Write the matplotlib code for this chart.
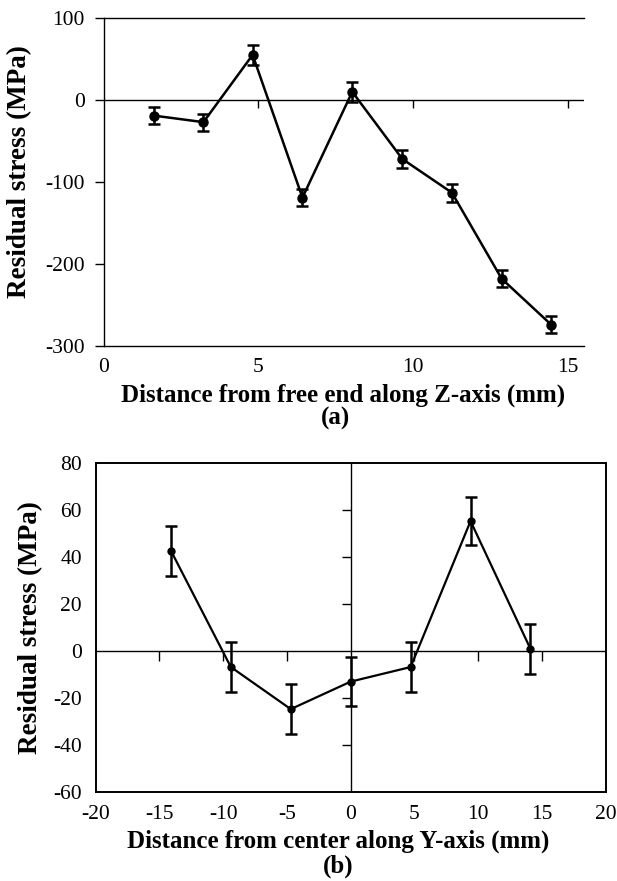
import numpy as np
import matplotlib
matplotlib.use("Agg")
import matplotlib.pyplot as plt

plt.rcParams["font.family"] = ["Liberation Serif", "DejaVu Serif"]
plt.rcParams["axes.unicode_minus"] = False

# (a) вдоль оси Z
z_pos = [1.62, 3.23, 4.82, 6.43, 8.04, 9.66, 11.26, 12.87, 14.47]
z_stress = [-19, -27, 55, -119, 10, -72, -113, -218, -274]
z_err = [10.5, 10.5, 12, 10, 12, 11, 11, 10.5, 10.5]
z_xticks = [0, 5, 10, 15]
z_yticks = [-300, -200, -100, 0, 100]

# (b) вдоль оси Y
y_pos = [-14.1, -9.4, -4.7, 0.0, 4.7, 9.4, 14.1]
y_stress = [42.8, -6.7, -24.6, -12.9, -6.7, 55.4, 1.0]
y_err = [10.7, 10.7, 10.7, 10.5, 10.7, 10.3, 10.5]
y_xticks = [-20, -15, -10, -5, 0, 5, 10, 15, 20]
y_yticks = [-60, -40, -20, 0, 20, 40, 60, 80]

W, H = 617, 881
fig = plt.figure(figsize=(W / 100, H / 100), dpi=100)

# ---- панель (a)
ax1 = fig.add_axes([103.5 / W, 1 - 346 / H, 480.5 / W, 328 / H])
ax1.errorbar(z_pos, z_stress, yerr=z_err, color="black", lw=1.8,
             marker="o", ms=6.5, elinewidth=1.8, capsize=4, capthick=1.8,
             zorder=3)
ax1.set_xlim(0, 15.53)
ax1.set_ylim(-300, 100)
ax1.axhline(0, color="black", lw=1.0, zorder=1)
ax1.spines["right"].set_visible(False)
for s in ["left", "top", "bottom"]:
    ax1.spines[s].set_linewidth(1.0)
ax1.set_xticks(z_xticks)
ax1.set_yticks(z_yticks)
ax1.tick_params(axis="y", direction="out", length=6.5, width=1.0,
                labelsize=15.5, pad=7)
ax1.tick_params(axis="x", length=0, labelsize=15.5, pad=9)
# засечки на нулевой линии
ax1.plot(z_xticks[1:], np.zeros(len(z_xticks) - 1), ls="none", marker=3,
         ms=6, mew=1.0, color="black", clip_on=False)

fig.text(20 / W, 1 - 172 / H, "Residual stress (MPa)", rotation=90,
         ha="center", va="center", fontsize=19.5, fontweight="bold")
fig.text(343 / W, 1 - 402 / H, "Distance from free end along Z-axis (mm)",
         ha="center", va="baseline", fontsize=18, fontweight="bold")
fig.text(336 / W, 1 - 418 / H, "(a)", ha="center", va="center",
         fontsize=18, fontweight="bold")

# ---- панель (b)
ax2 = fig.add_axes([95.7 / W, 1 - 792.3 / H, 510 / W, 329 / H])
ax2.errorbar(y_pos, y_stress, yerr=y_err, color="black", lw=1.6,
             marker="o", ms=5, elinewidth=1.8, capsize=4, capthick=1.8,
             zorder=3)
ax2.set_xlim(-20, 20)
ax2.set_ylim(-60, 80)
ax2.axhline(0, color="black", lw=1.0, zorder=1)
ax2.axvline(0, color="black", lw=1.0, zorder=1)
for s in ax2.spines.values():
    s.set_linewidth(1.4)
ax2.set_xticks(y_xticks)
ax2.set_yticks(y_yticks)
ax2.tick_params(axis="y", length=0, labelsize=15.5, pad=10)
ax2.tick_params(axis="x", length=0, labelsize=15.5, pad=9)
inner_x = [t for t in y_xticks if t not in (0, -20, 20)]
inner_y = [t for t in y_yticks if t not in (0, -60, 80)]
ax2.plot(inner_x, np.zeros(len(inner_x)), ls="none", marker=3,
         ms=7, mew=1.0, color="black")
ax2.plot(np.zeros(len(inner_y)), inner_y, ls="none", marker=0,
         ms=6.5, mew=1.0, color="black")

fig.text(31 / W, 1 - 628 / H, "Residual stress (MPa)", rotation=90,
         ha="center", va="center", fontsize=19.5, fontweight="bold")
fig.text(338 / W, 1 - 848 / H, "Distance from center along Y-axis (mm)",
         ha="center", va="baseline", fontsize=18, fontweight="bold")
fig.text(338 / W, 1 - 866 / H, "(b)", ha="center", va="center",
         fontsize=18, fontweight="bold")

fig.savefig("out.png", dpi=100)
